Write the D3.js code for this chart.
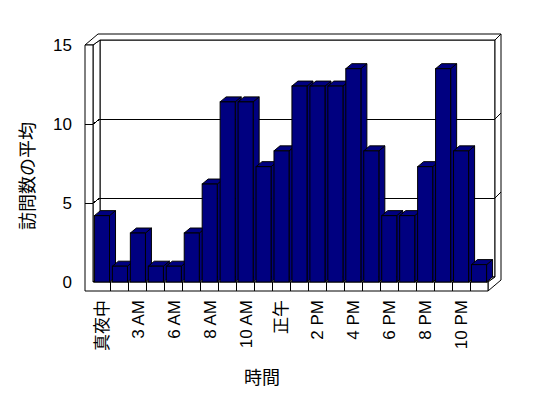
<!DOCTYPE html>
<html lang="ja">
<head>
<meta charset="UTF-8">
<title>訪問数の平均</title>
<script src="https://d3js.org/d3.v7.min.js"></script>
<style>
  body { margin: 0; background: #fff; }
  svg { font-family: "Liberation Sans", "Noto Sans CJK JP", sans-serif; }
  .wall { fill: #fff; stroke: #000; stroke-width: 1; }
  .grid { stroke: #000; stroke-width: 1; fill: none; shape-rendering: crispEdges; }
  .bar { fill: #000080; stroke: #000; stroke-width: 1; }
</style>
</head>
<body>
<svg id="chart" width="548" height="398"></svg>
<script>
// 時間帯ごとのカテゴリ（2時・5時はデータなし）
const hours = ["真夜中", "1 AM", "3 AM", "4 AM", "6 AM", "7 AM", "8 AM", "9 AM", "10 AM", "11 AM",
  "正午", "1 PM", "2 PM", "3 PM", "4 PM", "5 PM", "6 PM", "7 PM", "8 PM", "9 PM", "10 PM", "11 PM"];
// 訪問数の平均
const visits = [4.2, 1.0, 3.1, 1.0, 1.0, 3.1, 6.2, 11.4, 11.4, 7.3, 8.3,
  12.4, 12.4, 12.4, 13.5, 8.3, 4.2, 4.2, 7.3, 13.5, 8.3, 1.1];
// 表示する軸ラベル（1つおき）
const tickLabels = hours.filter((d, i) => i % 2 === 0);
const yTicks = [0, 5, 10, 15];
const gridValues = [5, 10];

// 3D の箱の寸法
const boxL = 93, boxR = 488, boxB = 282, boxT = 45;
const dx = 7, dy = -5;     // 手前 → 奥の壁
const tx = 6, ty = -6;     // 奥の壁の厚み
const wall = 8, floor = 9; // 左壁・床の厚み
const bdx = 6, bdy = -5;   // 棒の奥行き

const svg = d3.select("#chart");

const x = d3.scaleBand().domain(hours).range([boxL, boxR]);
const y = d3.scaleLinear().domain([0, 15]).range([boxB, boxT]);

const pts = p => p.map(d => d.join(",")).join(" ");

// 奥の壁
svg.append("rect").attr("class", "wall")
  .attr("x", boxL + dx).attr("y", boxT + dy)
  .attr("width", boxR - boxL).attr("height", boxB - boxT);

// 奥の壁の目盛線
gridValues.forEach(v => {
  svg.append("line").attr("class", "grid")
    .attr("x1", boxL + dx).attr("x2", boxR + dx)
    .attr("y1", y(v) + dy).attr("y2", y(v) + dy);
});

// 左壁の内側
svg.append("polygon").attr("class", "wall")
  .attr("points", pts([[boxL, boxT], [boxL + dx, boxT + dy], [boxL + dx, boxB + dy], [boxL, boxB]]));
gridValues.forEach(v => {
  svg.append("line").attr("class", "grid")
    .attr("x1", boxL).attr("y1", y(v))
    .attr("x2", boxL + dx).attr("y2", y(v) + dy);
});

// 床の上面
svg.append("polygon").attr("class", "wall")
  .attr("points", pts([[boxL, boxB], [boxL + dx, boxB + dy], [boxR + dx, boxB + dy], [boxR, boxB]]));

// 上の縁（左壁 + 奥の壁）
svg.append("polygon").attr("class", "wall")
  .attr("points", pts([[boxL - wall, boxT], [boxL - wall + dx + tx, boxT + dy + ty],
    [boxR + dx + tx, boxT + dy + ty], [boxR + dx, boxT + dy], [boxL + dx, boxT + dy], [boxL, boxT]]));

// 右側の縁（奥の壁 + 床）
svg.append("polygon").attr("class", "wall")
  .attr("points", pts([[boxR + dx, boxT + dy], [boxR + dx + tx, boxT + dy + ty],
    [boxR + dx + tx, boxB + dy + ty + floor], [boxR, boxB + floor],
    [boxR, boxB], [boxR + dx, boxB + dy]]));
gridValues.forEach(v => {
  svg.append("line").attr("class", "grid")
    .attr("x1", boxR + dx).attr("y1", y(v) + dy)
    .attr("x2", boxR + dx + tx).attr("y2", y(v) + dy + ty);
});

// 手前の面（左壁 + 床）
svg.append("polygon").attr("class", "wall")
  .attr("points", pts([[boxL - wall, boxT], [boxL, boxT], [boxL, boxB], [boxR, boxB],
    [boxR, boxB + floor], [boxL - wall, boxB + floor]]));
gridValues.forEach(v => {
  svg.append("line").attr("class", "grid")
    .attr("x1", boxL - wall).attr("x2", boxL)
    .attr("y1", y(v)).attr("y2", y(v));
});
// 床の区切り線
hours.slice(1).forEach(h => {
  svg.append("line").attr("class", "grid")
    .attr("x1", x(h)).attr("x2", x(h))
    .attr("y1", boxB).attr("y2", boxB + floor);
});

// 棒
const bw = x.bandwidth() * 0.84;
const off = x.bandwidth() * 0.08;
const bars = svg.selectAll(".barg")
  .data(hours.map((h, i) => ({ h, v: visits[i] })))
  .enter().append("g").attr("class", "barg");

bars.append("polygon").attr("class", "bar")
  .attr("points", d => {
    const x0 = x(d.h) + off + bw, yt = y(d.v);
    return pts([[x0, yt], [x0 + bdx, yt + bdy], [x0 + bdx, boxB + bdy], [x0, boxB]]);
  });
bars.append("polygon").attr("class", "bar")
  .attr("points", d => {
    const x0 = x(d.h) + off, yt = y(d.v);
    return pts([[x0, yt], [x0 + bdx, yt + bdy], [x0 + bw + bdx, yt + bdy], [x0 + bw, yt]]);
  });
bars.append("rect").attr("class", "bar")
  .attr("x", d => x(d.h) + off)
  .attr("y", d => y(d.v))
  .attr("width", bw)
  .attr("height", d => boxB - y(d.v));

// Y 軸ラベル
const yAxis = svg.append("g")
  .attr("transform", `translate(${boxL - wall},0)`)
  .call(d3.axisLeft(y).tickValues(yTicks).tickSize(0).tickPadding(13));
yAxis.select(".domain").remove();
yAxis.selectAll("text")
  .attr("font-family", "Liberation Sans, Noto Sans CJK JP, sans-serif")
  .attr("font-size", 17).attr("fill", "#000");

// X 軸ラベル（縦書き）
svg.selectAll(".xlab")
  .data(tickLabels)
  .enter().append("text")
  .attr("class", "xlab")
  .attr("transform", d => `translate(${x(d) + x.bandwidth() / 2},${boxB + floor + 9}) rotate(-90)`)
  .attr("text-anchor", "end")
  .attr("dy", "0.35em")
  .attr("font-size", 17)
  .text(d => d);

// 軸タイトル
svg.append("text")
  .attr("transform", "translate(28,176) rotate(-90)")
  .attr("text-anchor", "middle")
  .attr("dy", "0.35em")
  .attr("font-size", 18)
  .text("訪問数の平均");

svg.append("text")
  .attr("x", 262).attr("y", 378)
  .attr("text-anchor", "middle")
  .attr("dy", "0.35em")
  .attr("font-size", 18)
  .text("時間");
</script>
</body>
</html>
